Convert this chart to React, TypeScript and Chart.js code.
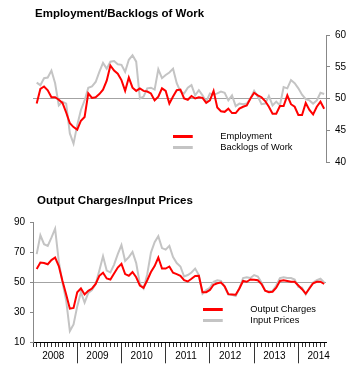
import React, { useEffect, useRef } from 'react';
import { Chart, registerables } from 'chart.js';

Chart.register(...registerables);

// ---- data (monthly, Jan 2008 .. Jul 2014) ----
const startYear = 2008;
const yearLabels = ['2008', '2009', '2010', '2011', '2012', '2013', '2014'];

const employment = [
  49.2, 51.5, 51.9, 51.3, 50.2, 50.2, 49.8, 49.3, 47.8, 46.1,
  45.5, 45.1, 46.5, 47.1, 50.8, 50.1, 50.2, 50.7, 51.4, 52.8,
  55.2, 54.4, 53.9, 52.9, 51.2, 53.3, 51.7, 51.2, 51.6, 51.2,
  51.1, 50.8, 49.7, 50.3, 51.6, 51.2, 49.2, 50.3, 51.3, 51.4,
  50.0, 49.8, 50.4, 50.0, 50.2, 50.1, 49.3, 49.7, 51.2, 48.6,
  48.0, 47.9, 48.4, 47.7, 47.7, 48.4, 48.7, 48.9, 50.0, 50.9,
  50.5, 50.2, 49.6, 48.7, 47.6, 47.6, 48.8, 48.8, 50.5, 49.1,
  48.7, 47.4, 47.4, 49.3, 48.2, 47.5, 48.7, 49.5, 48.4,
];

const backlogs = [
  52.5, 52.1, 53.2, 53.3, 54.4, 52.4, 48.9, 49.5, 49.2, 44.5,
  42.9, 45.8, 48.2, 49.7, 51.7, 51.9, 52.6, 54.2, 55.6, 54.7,
  55.8, 55.9, 55.4, 55.3, 54.2, 56.1, 56.8, 55.8, 50.0, 50.3,
  51.6, 51.7, 51.4, 54.6, 53.2, 53.7, 54.1, 54.7, 52.4, 51.1,
  50.8, 51.7, 52.1, 50.5, 51.3, 50.5, 49.5, 50.8, 50.6, 50.8,
  51.1, 50.9, 49.7, 50.5, 48.8, 49.2, 49.1, 49.2, 50.0, 51.2,
  50.3, 49.1, 49.2, 50.4, 48.9, 49.5, 48.9, 51.8, 51.6, 52.9,
  52.4, 51.6, 50.6, 49.9, 49.7, 49.2, 49.7, 50.9, 50.7,
];

const outputCharges = [
  59.0, 63.3, 63.0, 62.2, 65.0, 66.7, 61.0, 51.0, 42.0, 32.5,
  33.0, 43.5, 46.0, 42.0, 44.4, 46.0, 49.0, 54.5, 56.5, 52.7,
  52.0, 56.0, 60.0, 62.5, 55.6, 54.5, 57.0, 53.5, 48.0, 46.5,
  51.5, 57.0, 61.0, 66.7, 59.3, 59.3, 60.7, 56.5, 55.6, 54.5,
  51.5, 50.7, 52.5, 54.4, 54.5, 43.5, 43.5, 45.0, 48.5, 49.5,
  50.0, 47.5, 42.2, 42.0, 41.8, 46.0, 51.0, 50.5, 52.0, 51.8,
  51.5, 49.0, 44.5, 43.5, 43.8, 46.5, 51.0, 51.5, 51.0, 50.5,
  50.5, 48.0, 45.5, 42.5, 46.0, 49.5, 50.5, 50.5, 49.0,
];

const inputPrices = [
  69.0, 81.6, 75.6, 74.5, 80.0, 86.0, 64.0, 50.0, 38.0, 17.5,
  22.0, 34.0, 43.5, 36.5, 43.0, 45.0, 49.0, 58.0, 67.5, 58.0,
  56.7, 62.0, 69.0, 75.0, 64.4, 67.0, 70.4, 63.0, 49.0, 46.0,
  55.6, 70.0, 77.0, 81.0, 73.0, 72.0, 74.5, 67.0, 63.0, 60.7,
  54.0, 55.0, 56.7, 59.3, 55.0, 42.5, 45.0, 46.5, 50.5, 51.5,
  51.0, 47.0, 42.0, 41.8, 41.0, 46.0, 53.0, 53.5, 53.0, 55.0,
  54.0, 50.0, 44.5, 44.0, 44.5, 48.0, 53.0, 53.5, 53.0, 53.0,
  52.0, 47.0, 46.5, 42.0, 46.5, 50.0, 51.5, 52.5, 50.0,
];

const FONT = "'Liberation Sans', Arial, Helvetica, sans-serif";
const RED = '#ff0000';
const GREY = '#c4c4c4';
const MONTHS_SHOWN = 79.5;

const toPoints = (arr: number[]) => arr.map((v, i) => ({ x: i + 1, y: v }));

function lineSample(color: string): HTMLCanvasElement {
  const c = document.createElement('canvas');
  c.width = 43;
  c.height = 3;
  const g = c.getContext('2d');
  if (g) {
    g.fillStyle = color;
    g.fillRect(0, 0, 20, 3);
  }
  return c;
}

function placer(x: number, rowCenter: number, pad: number, fontSize: number, titleShift: number) {
  return {
    id: 'placer',
    afterLayout(chart: any) {
      const lg = chart.legend;
      if (lg) {
        lg.left = x - pad;
        lg.top = rowCenter - fontSize / 2 - pad;
        lg.width = 220;
        lg.height = 80;
        lg.right = lg.left + lg.width;
        lg.bottom = lg.top + lg.height;
      }
      const tb = chart.titleBlock;
      if (tb) {
        tb.left += titleShift;
        tb.right += titleShift;
      }
    },
  };
}

function legendOptions(pad: number, fontSize: number) {
  return {
    display: true,
    position: 'chartArea' as const,
    align: 'start' as const,
    labels: {
      usePointStyle: true,
      pointStyleWidth: 43,
      boxHeight: fontSize,
      padding: pad,
      color: '#000',
      font: { family: FONT, size: fontSize },
      generateLabels: (chart: any) =>
        chart.data.datasets.map((ds: any, i: number) => ({
          text: ds.label,
          fillStyle: ds.borderColor,
          strokeStyle: ds.borderColor,
          lineWidth: 0,
          pointStyle: lineSample(ds.borderColor),
          hidden: false,
          datasetIndex: i,
          fontColor: '#000',
        })),
    },
  };
}

const fiftyLine = (c: any) =>
  c.tick && c.tick.value === 50 ? '#a3a3a3' : 'rgba(0,0,0,0)';

const fixVertical = (w: number) => (s: any) => {
  s.width = w;
  s.paddingTop = 0;
  s.paddingBottom = 0;
};

export default function App() {
  const topRef = useRef<HTMLCanvasElement>(null);
  const botRef = useRef<HTMLCanvasElement>(null);

  useEffect(() => {
    if (!topRef.current || !botRef.current) return;

    const top = new Chart(topRef.current, {
      type: 'line',
      data: {
        datasets: [
          { label: 'Employment', data: toPoints(employment), borderColor: RED, backgroundColor: RED, borderWidth: 2, pointRadius: 0, tension: 0 },
          { label: 'Backlogs of Work', data: toPoints(backlogs), borderColor: GREY, backgroundColor: GREY, borderWidth: 2, pointRadius: 0, tension: 0 },
        ],
      },
      options: {
        responsive: false,
        animation: false,
        events: [],
        layout: { padding: { left: 33, right: 0, top: 0, bottom: 8 } },
        scales: {
          x: { type: 'linear', min: 0, max: MONTHS_SHOWN, display: false },
          y: {
            type: 'linear',
            position: 'right',
            min: 40,
            max: 60,
            ticks: { stepSize: 5, color: '#000', padding: 5, font: { family: FONT, size: 10 } },
            grid: { color: fiftyLine, tickColor: '#888', tickLength: 4, lineWidth: 1 },
            border: { color: '#888' },
            afterFit: fixVertical(27),
          },
        },
        plugins: {
          title: {
            display: true,
            text: 'Employment/Backlogs of Work',
            align: 'start',
            fullSize: false,
            color: '#000',
            font: { family: FONT, size: 11.5, weight: 'bold', lineHeight: 1.2 },
            padding: { top: 7.1, bottom: 14.1 },
          },
          legend: legendOptions(1.3, 9.3) as any,
          tooltip: { enabled: false },
        },
      },
      plugins: [placer(172.7, 136.7, 1.3, 9.3, 2)],
    } as any);

    const monthTicks = Array.from({ length: 80 }, (_, m) => m);

    const bottom = new Chart(botRef.current, {
      type: 'line',
      data: {
        datasets: [
          { label: 'Output Charges', data: toPoints(outputCharges), borderColor: RED, backgroundColor: RED, borderWidth: 2, pointRadius: 0, tension: 0 },
          { label: 'Input Prices', data: toPoints(inputPrices), borderColor: GREY, backgroundColor: GREY, borderWidth: 2, pointRadius: 0, tension: 0 },
        ],
      },
      options: {
        responsive: false,
        animation: false,
        events: [],
        layout: { padding: { left: 0, right: 27, top: 0, bottom: 0 } },
        scales: {
          x: {
            type: 'linear',
            min: 0,
            max: MONTHS_SHOWN,
            afterBuildTicks: (s: any) => { s.ticks = monthTicks.map((m) => ({ value: m })); },
            ticks: {
              autoSkip: false,
              maxRotation: 0,
              minRotation: 0,
              padding: -13.3,
              labelOffset: 1.84,
              color: '#000',
              font: { family: FONT, size: 10 },
              callback: (v: any) => {
                const m = Number(v);
                return m % 12 === 5 ? yearLabels[(m - 5) / 12] ?? String(startYear + (m - 5) / 12) : '';
              },
            },
            grid: {
              drawOnChartArea: false,
              tickLength: 21,
              tickColor: '#333',
              tickWidth: 1,
              tickBorderDash: (c: any) => (c.tick && c.tick.value > 0 && c.tick.value % 12 === 0 ? [] : [4, 40]),
            },
            border: { color: '#000', width: 1 },
            afterFit: (s: any) => {
              s.height = 26.7;
              s.paddingLeft = 0;
              s.paddingRight = 0;
            },
          },
          y: {
            type: 'linear',
            min: 10,
            max: 90,
            ticks: { stepSize: 10, color: '#000', padding: 5, font: { family: FONT, size: 10 } },
            grid: { color: fiftyLine, tickColor: '#888', tickLength: 3, lineWidth: 1 },
            border: { color: '#888' },
            afterFit: fixVertical(33),
          },
        },
        plugins: {
          title: {
            display: true,
            text: 'Output Charges/Input Prices',
            align: 'start',
            fullSize: false,
            color: '#000',
            font: { family: FONT, size: 11.5, weight: 'bold', lineHeight: 1.2 },
            padding: { top: 23.8, bottom: 15.1 },
          },
          legend: legendOptions(2.1, 9.3) as any,
          tooltip: { enabled: false },
        },
      },
      plugins: [placer(202.7, 139.3, 2.1, 9.3, 4)],
    } as any);

    return () => {
      top.destroy();
      bottom.destroy();
    };
  }, []);

  return (
    <div style={{ position: 'absolute', left: 0, top: 0, width: 353, height: 369, background: '#fff' }}>
      <canvas ref={topRef} width={353} height={170} style={{ position: 'absolute', left: 0, top: 0, width: 353, height: 170 }} />
      <canvas ref={botRef} width={353} height={199} style={{ position: 'absolute', left: 0, top: 170, width: 353, height: 199 }} />
    </div>
  );
}
